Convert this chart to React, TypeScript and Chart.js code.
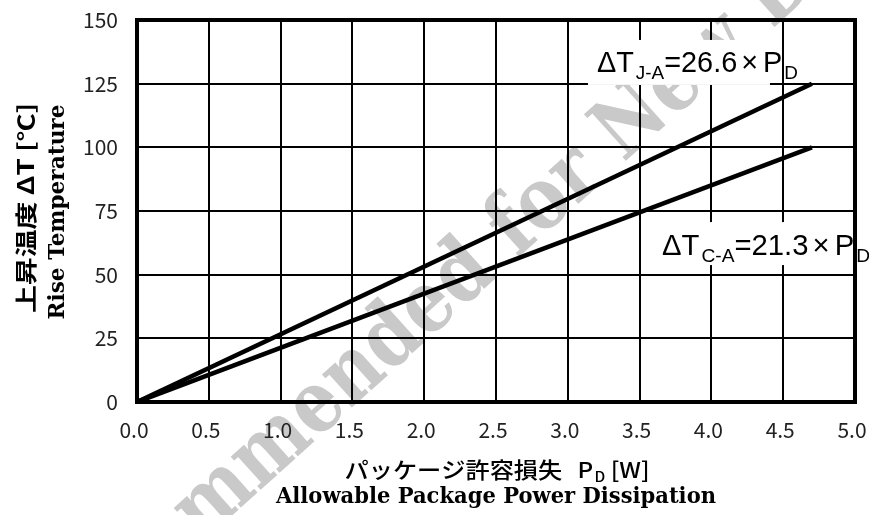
import React, { useEffect, useRef } from "react";
import { Chart, registerables } from "chart.js";

Chart.register(...registerables);

// ---- data ----
const powerDissipation = [0, 4.7];
const riseJunctionAmbient = [0, 125];
const riseCaseAmbient = [0, 100];
const xTickValues = [0, 0.5, 1, 1.5, 2, 2.5, 3, 3.5, 4, 4.5, 5];
const yTickValues = [0, 25, 50, 75, 100, 125, 150];

const xTitleJa = "パッケージ許容損失";
const xTitleUnitMain = "P";
const xTitleUnitSub = "D";
const xTitleUnit = "[W]";
const xTitleEn = "Allowable Package Power Dissipation";
const yTitleJa = "上昇温度 ΔT [℃]";
const yTitleEn = "Rise Temperature";

const labelJAText = ["ΔT", "J-A", "=26.6", "×", "P", "D"];
const labelJAPos = { x: 3.203, y: 129.6 };
const labelCAText = ["ΔT", "C-A", "=21.3", "×", "P", "D"];
const labelCAPos = { x: 3.656, y: 57.7 };

const watermarkText = "Not Recommended for New Design";

// ---- styles ----
const GOTHIC = "'Noto Sans CJK JP', 'Noto Sans', sans-serif";
const SANS = "'Liberation Sans', Arial, sans-serif";
const SERIF = "'DejaVu Serif', 'Liberation Serif', serif";

type Seg = { t: string; font: string; dy?: number; gap?: number };

function segsWidth(ctx: CanvasRenderingContext2D, segs: Seg[]) {
  let w = 0;
  for (const s of segs) {
    ctx.font = s.font;
    w += (s.gap || 0) + ctx.measureText(s.t).width;
  }
  return w;
}

function drawSegs(
  ctx: CanvasRenderingContext2D,
  segs: Seg[],
  x: number,
  y: number,
  targetW: number,
  align: "left" | "center"
) {
  const w = segsWidth(ctx, segs);
  const k = targetW > 0 ? targetW / w : 1;
  ctx.save();
  ctx.translate(x, y);
  ctx.scale(k, 1);
  ctx.textAlign = "left";
  ctx.textBaseline = "alphabetic";
  let cx = align === "center" ? -w / 2 : 0;
  for (const s of segs) {
    cx += s.gap || 0;
    ctx.font = s.font;
    ctx.fillText(s.t, cx, s.dy || 0);
    cx += ctx.measureText(s.t).width;
  }
  ctx.restore();
}

function labelSegs(parts: string[]): Seg[] {
  const main = `29px ${SANS}`;
  const sub = `19px ${SANS}`;
  return [
    { t: parts[0], font: main },
    { t: parts[1], font: sub, dy: 7, gap: 2 },
    { t: parts[2], font: main, gap: 0 },
    { t: parts[3], font: main, gap: 4 },
    { t: parts[4], font: main, gap: 5 },
    { t: parts[5], font: sub, dy: 7, gap: 2 },
  ];
}

const decorPlugin = {
  id: "decor",
  beforeDraw(chart: any) {
    const ctx: CanvasRenderingContext2D = chart.ctx;
    ctx.save();
    ctx.translate(438, 300);
    ctx.rotate((-42 * Math.PI) / 180);
    ctx.font = `bold 86px ${SERIF}`;
    const w = ctx.measureText(watermarkText).width;
    ctx.scale(1420 / w, 1);
    ctx.fillStyle = "#c9c9c9";
    ctx.textAlign = "center";
    ctx.textBaseline = "middle";
    ctx.fillText(watermarkText, 0, 0);
    ctx.restore();
  },
  afterDatasetsDraw(chart: any) {
    const ctx: CanvasRenderingContext2D = chart.ctx;
    const xs = chart.scales.x;
    const ys = chart.scales.y;
    const area = chart.chartArea;

    // J-A label
    const jx = xs.getPixelForValue(labelJAPos.x);
    const jy = ys.getPixelForValue(labelJAPos.y);
    ctx.save();
    ctx.fillStyle = "#fff";
    ctx.fillRect(jx - 9, jy - 32, 182, 45);
    ctx.fillStyle = "#000";
    drawSegs(ctx, labelSegs(labelJAText), jx, jy, 201, "left");
    ctx.restore();

    // C-A label
    const cx = xs.getPixelForValue(labelCAPos.x);
    const cy = ys.getPixelForValue(labelCAPos.y);
    ctx.save();
    ctx.fillStyle = "#fff";
    ctx.fillRect(cx - 12, cy - 33, area.right - (cx - 12), 43);
    ctx.fillStyle = "#000";
    drawSegs(ctx, labelSegs(labelCAText), cx, cy, 208, "left");
    ctx.restore();

    // top & right frame
    ctx.save();
    ctx.strokeStyle = "#000";
    ctx.lineWidth = 4;
    ctx.beginPath();
    ctx.moveTo(area.left - 2, area.top);
    ctx.lineTo(area.right, area.top);
    ctx.lineTo(area.right, area.bottom + 2);
    ctx.stroke();
    ctx.restore();
  },
  afterDraw(chart: any) {
    const ctx: CanvasRenderingContext2D = chart.ctx;
    const area = chart.chartArea;
    const midX = (area.left + area.right) / 2;
    const midY = (area.top + area.bottom) / 2;
    ctx.save();
    ctx.fillStyle = "#000";

    // x titles
    drawSegs(
      ctx,
      [
        { t: xTitleJa, font: `500 22px ${GOTHIC}` },
        { t: xTitleUnitMain, font: `500 22px ${GOTHIC}`, gap: 14 },
        { t: xTitleUnitSub, font: `500 14px ${GOTHIC}`, dy: 4, gap: 1 },
        { t: xTitleUnit, font: `500 22px ${GOTHIC}`, gap: 5 },
      ],
      midX + 1,
      area.bottom + 76,
      305,
      "center"
    );
    drawSegs(
      ctx,
      [{ t: xTitleEn, font: `bold 23px ${SERIF}` }],
      midX,
      area.bottom + 101,
      440,
      "center"
    );

    // y titles (rotated)
    ctx.save();
    ctx.translate(34, midY - 3);
    ctx.rotate(-Math.PI / 2);
    drawSegs(ctx, [{ t: yTitleJa, font: `bold 22px ${GOTHIC}` }], 0, 0, 210, "center");
    ctx.restore();

    ctx.save();
    ctx.translate(64, midY + 1);
    ctx.rotate(-Math.PI / 2);
    drawSegs(ctx, [{ t: yTitleEn, font: `bold 23px ${SERIF}` }], 0, 0, 215, "center");
    ctx.restore();

    ctx.restore();
  },
};

export default function App() {
  const ref = useRef<HTMLCanvasElement>(null);
  useEffect(() => {
    const canvas = ref.current;
    if (!canvas) return;
    const chart = new Chart(canvas, {
      type: "line",
      data: {
        datasets: [
          {
            label: "ΔTJ-A",
            data: powerDissipation.map((x, i) => ({ x, y: riseJunctionAmbient[i] })),
            borderColor: "#000",
            borderWidth: 4.5,
            pointRadius: 0,
            fill: false,
            tension: 0,
            borderCapStyle: "butt",
          },
          {
            label: "ΔTC-A",
            data: powerDissipation.map((x, i) => ({ x, y: riseCaseAmbient[i] })),
            borderColor: "#000",
            borderWidth: 4.5,
            pointRadius: 0,
            fill: false,
            tension: 0,
            borderCapStyle: "butt",
          },
        ],
      },
      options: {
        responsive: false,
        animation: false,
        layout: { padding: { top: 20, right: 14, left: 0, bottom: 0 } },
        plugins: {
          legend: { display: false },
          tooltip: { enabled: false },
          title: { display: false },
        },
        scales: {
          x: {
            type: "linear",
            min: 0,
            max: 5,
            afterBuildTicks: (s: any) => {
              s.ticks = xTickValues.map((v) => ({ value: v }));
            },
            afterFit: (s: any) => {
              s.height = 113;
              s.paddingLeft = 0;
              s.paddingRight = 0;
            },
            ticks: {
              callback: (v: any) => Number(v).toFixed(1),
              font: { family: GOTHIC, size: 21 },
              color: "#222",
              padding: 15,
              labelOffset: -3,
              maxRotation: 0,
              autoSkip: false,
            },
            grid: { color: "#000", lineWidth: 2, drawTicks: false },
            border: { display: true, color: "#000", width: 4 },
          },
          y: {
            type: "linear",
            min: 0,
            max: 150,
            afterBuildTicks: (s: any) => {
              s.ticks = yTickValues.map((v) => ({ value: v }));
            },
            afterFit: (s: any) => {
              s.width = 137;
              s.paddingTop = 0;
              s.paddingBottom = 0;
            },
            ticks: {
              callback: (v: any) => String(v),
              font: { family: GOTHIC, size: 21 },
              color: "#222",
              padding: 19,
              autoSkip: false,
            },
            grid: { color: "#000", lineWidth: 2, drawTicks: false },
            border: { display: true, color: "#000", width: 4 },
          },
        },
      } as any,
      plugins: [decorPlugin],
    });
    return () => chart.destroy();
  }, []);

  return (
    <div style={{ position: "absolute", left: 0, top: 0, width: 869, height: 515, background: "#fff" }}>
      <canvas ref={ref} width={869} height={515} style={{ width: 869, height: 515, display: "block" }} />
    </div>
  );
}
